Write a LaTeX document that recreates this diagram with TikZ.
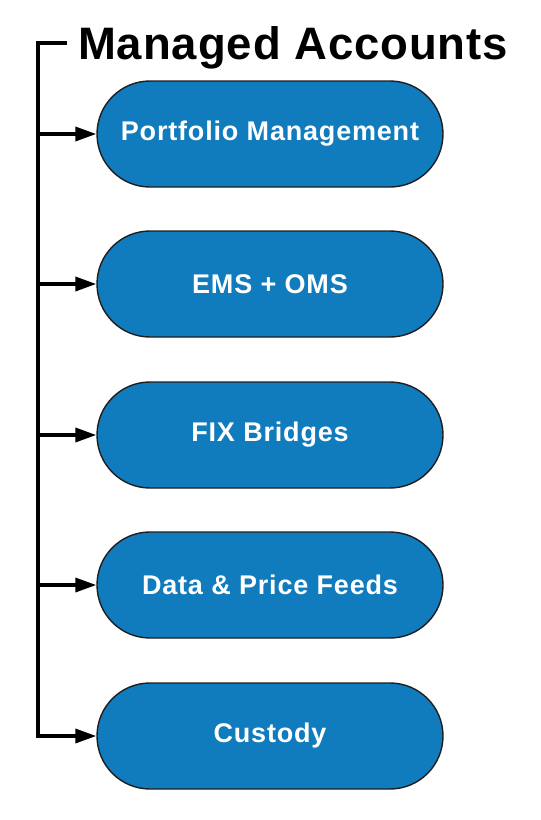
\documentclass[tikz,border=0pt]{standalone}
\usepackage{fontspec}
\setmainfont{Liberation Sans}
\newfontfamily\titlefont[LetterSpace=2.0]{Liberation Sans}
\newfontfamily\boxfont[LetterSpace=3.0]{Liberation Sans}
\usetikzlibrary{shapes.misc,arrows.meta}
\definecolor{boxblue}{RGB}{16,123,189}
\definecolor{boxedge}{RGB}{30,30,30}
\begin{document}
\begin{tikzpicture}[x=1pt,y=1pt,
  stadium/.style={rounded rectangle, draw=boxedge, line width=1.4pt, fill=boxblue,
    minimum width=346pt, minimum height=106pt, inner sep=0pt,
    text=white, font=\boxfont\fontsize{27}{30}\selectfont\bfseries},
  trunk/.style={line width=3.6pt, draw=black},
  feed/.style={line width=3.6pt, draw=black, -{Triangle[length=21pt,width=14pt]}}]
\useasboundingbox (0,0) rectangle (541,-820);
\node[anchor=base west, font=\titlefont\fontsize{45.5}{50}\selectfont\bfseries, inner sep=0pt] (title) at (78,-59) {Managed Accounts};
\node[stadium] (pm) at (270,-134) {Portfolio Management};
\node[stadium] (ems) at (270,-284) {EMS + OMS};
\node[stadium] (fix) at (270,-435) {FIX Bridges};
\node[stadium] (data) at (270,-585) {Data \& Price Feeds};
\node[stadium] (cus) at (270,-736) {Custody};
\coordinate (tstart) at (67,-43);
\coordinate (corner) at (38,-43);
\coordinate (b1) at (38,-134);
\coordinate (b2) at (38,-284);
\coordinate (b3) at (38,-435);
\coordinate (b4) at (38,-585);
\coordinate (b5) at (38,-736);
\draw[trunk] (tstart) -- (corner) -- ([yshift=-1.8pt]b5);
\draw[feed] (b1) -- (pm.west);
\draw[feed] (b2) -- (ems.west);
\draw[feed] (b3) -- (fix.west);
\draw[feed] (b4) -- (data.west);
\draw[feed] (b5) -- (cus.west);
\end{tikzpicture}
\end{document}
